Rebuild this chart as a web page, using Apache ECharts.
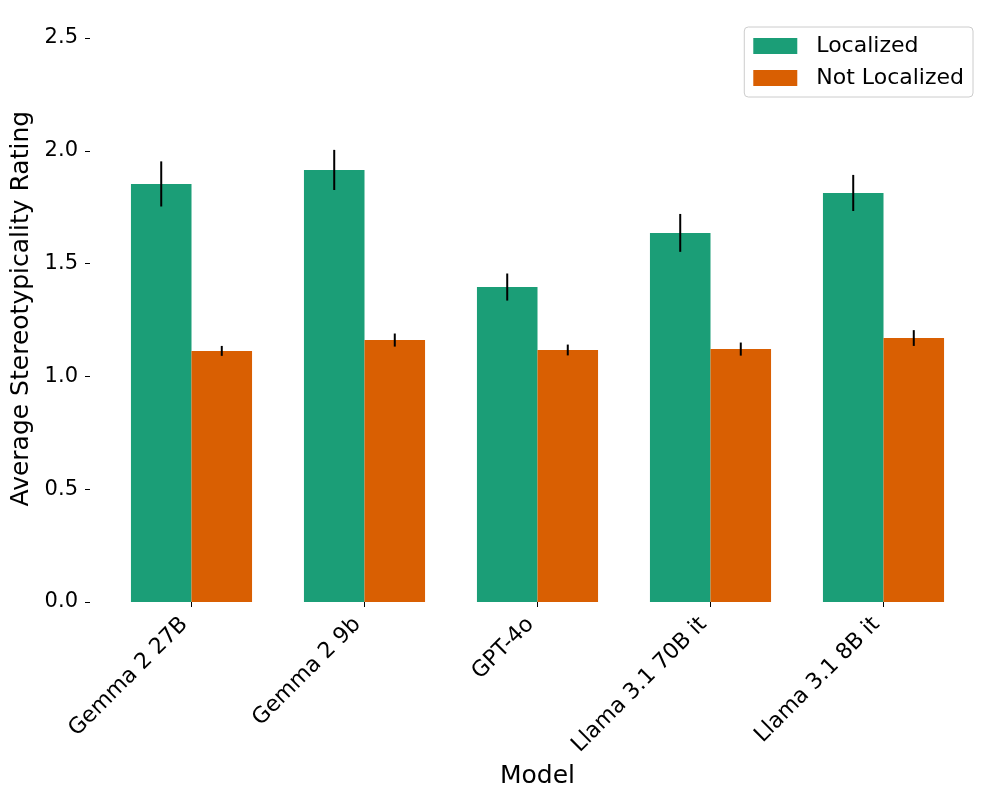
<!DOCTYPE html>
<html>
<head>
<meta charset="utf-8">
<script src="https://cdn.jsdelivr.net/npm/echarts@6/dist/echarts.min.js"></script>
<style>
  html, body { margin: 0; padding: 0; background: #fff; }
  #chart { width: 1000px; height: 800px; }
</style>
</head>
<body>
<div id="chart"></div>
<script>
// data
var models = ['Gemma 2 27B', 'Gemma 2 9b', 'GPT-4o', 'Llama 3.1 70B it', 'Llama 3.1 8B it'];
var localized = [1.853, 1.915, 1.396, 1.636, 1.813];
var localizedErr = [0.100, 0.089, 0.060, 0.084, 0.080];
var notLocalized = [1.113, 1.161, 1.117, 1.121, 1.170];
var notLocalizedErr = [0.022, 0.029, 0.024, 0.029, 0.035];
var yTicks = [0, 0.5, 1.0, 1.5, 2.0, 2.5];

var font = 'DejaVu Sans';
var green = '#1b9e77';
var orange = '#d95f02';

// error bar series: shift = fraction of band width from category centre
function errSeries(vals, errs, shift) {
  return {
    type: 'custom',
    silent: true,
    z: 10,
    data: vals.map(function (v, i) { return [i, v - errs[i], v + errs[i]]; }),
    renderItem: function (params, api) {
      var band = api.size([1, 0])[0];
      var lo = api.coord([api.value(0), api.value(1)]);
      var hi = api.coord([api.value(0), api.value(2)]);
      var x = lo[0] + shift * band;
      return {
        type: 'line',
        shape: { x1: x, y1: lo[1], x2: x, y2: hi[1] },
        style: { stroke: '#000', lineWidth: 2 }
      };
    }
  };
}

var myChart = echarts.init(document.getElementById('chart'));
var option = {
  animation: false,
  textStyle: { fontFamily: font },
  // y range runs a bit past 2.5 like the original axes
  grid: { left: 105, right: 30, top: 15.4, bottom: 198, containLabel: false },
  legend: {
    orient: 'vertical',
    right: 27,
    top: 27,
    data: ['Localized', 'Not Localized'],
    itemWidth: 44,
    itemHeight: 16,
    itemGap: 10,
    padding: [8, 9, 8, 9],
    borderColor: '#cccccc',
    borderWidth: 1,
    borderRadius: 4,
    textStyle: { fontFamily: font, fontSize: 22, color: '#000', padding: [0, 0, 0, 14] },
    icon: 'rect'
  },
  xAxis: {
    type: 'category',
    data: models,
    name: 'Model',
    nameLocation: 'middle',
    nameGap: 158,
    nameTextStyle: { fontFamily: font, fontSize: 25, color: '#000' },
    axisLine: { show: false },
    axisTick: { show: true, alignWithLabel: true, length: 5, lineStyle: { color: '#000' } },
    axisLabel: { rotate: 45, fontSize: 22, color: '#000', margin: 12, padding: [0, 10, 0, 0], interval: 0 },
    splitLine: { show: false }
  },
  yAxis: {
    type: 'value',
    min: 0,
    max: 2.6,
    interval: 0.5,
    offset: 15,
    name: 'Average Stereotypicality Rating',
    nameLocation: 'middle',
    nameGap: 45,
    nameTextStyle: { fontFamily: font, fontSize: 25, color: '#000' },
    axisLine: { show: false },
    axisTick: { show: true, length: 5, customValues: yTicks, lineStyle: { color: '#000' } },
    axisLabel: {
      fontSize: 21, color: '#000', margin: 12,
      customValues: yTicks,
      formatter: function (v) { return v.toFixed(1); }
    },
    splitLine: { show: false }
  },
  series: [
    {
      name: 'Localized',
      type: 'bar',
      data: localized,
      barWidth: '35%',
      barGap: '0%',
      itemStyle: { color: green }
    },
    {
      name: 'Not Localized',
      type: 'bar',
      data: notLocalized,
      barWidth: '35%',
      barGap: '0%',
      itemStyle: { color: orange }
    },
    errSeries(localized, localizedErr, -0.175),
    errSeries(notLocalized, notLocalizedErr, 0.175)
  ]
};
myChart.setOption(option);
</script>
</body>
</html>
